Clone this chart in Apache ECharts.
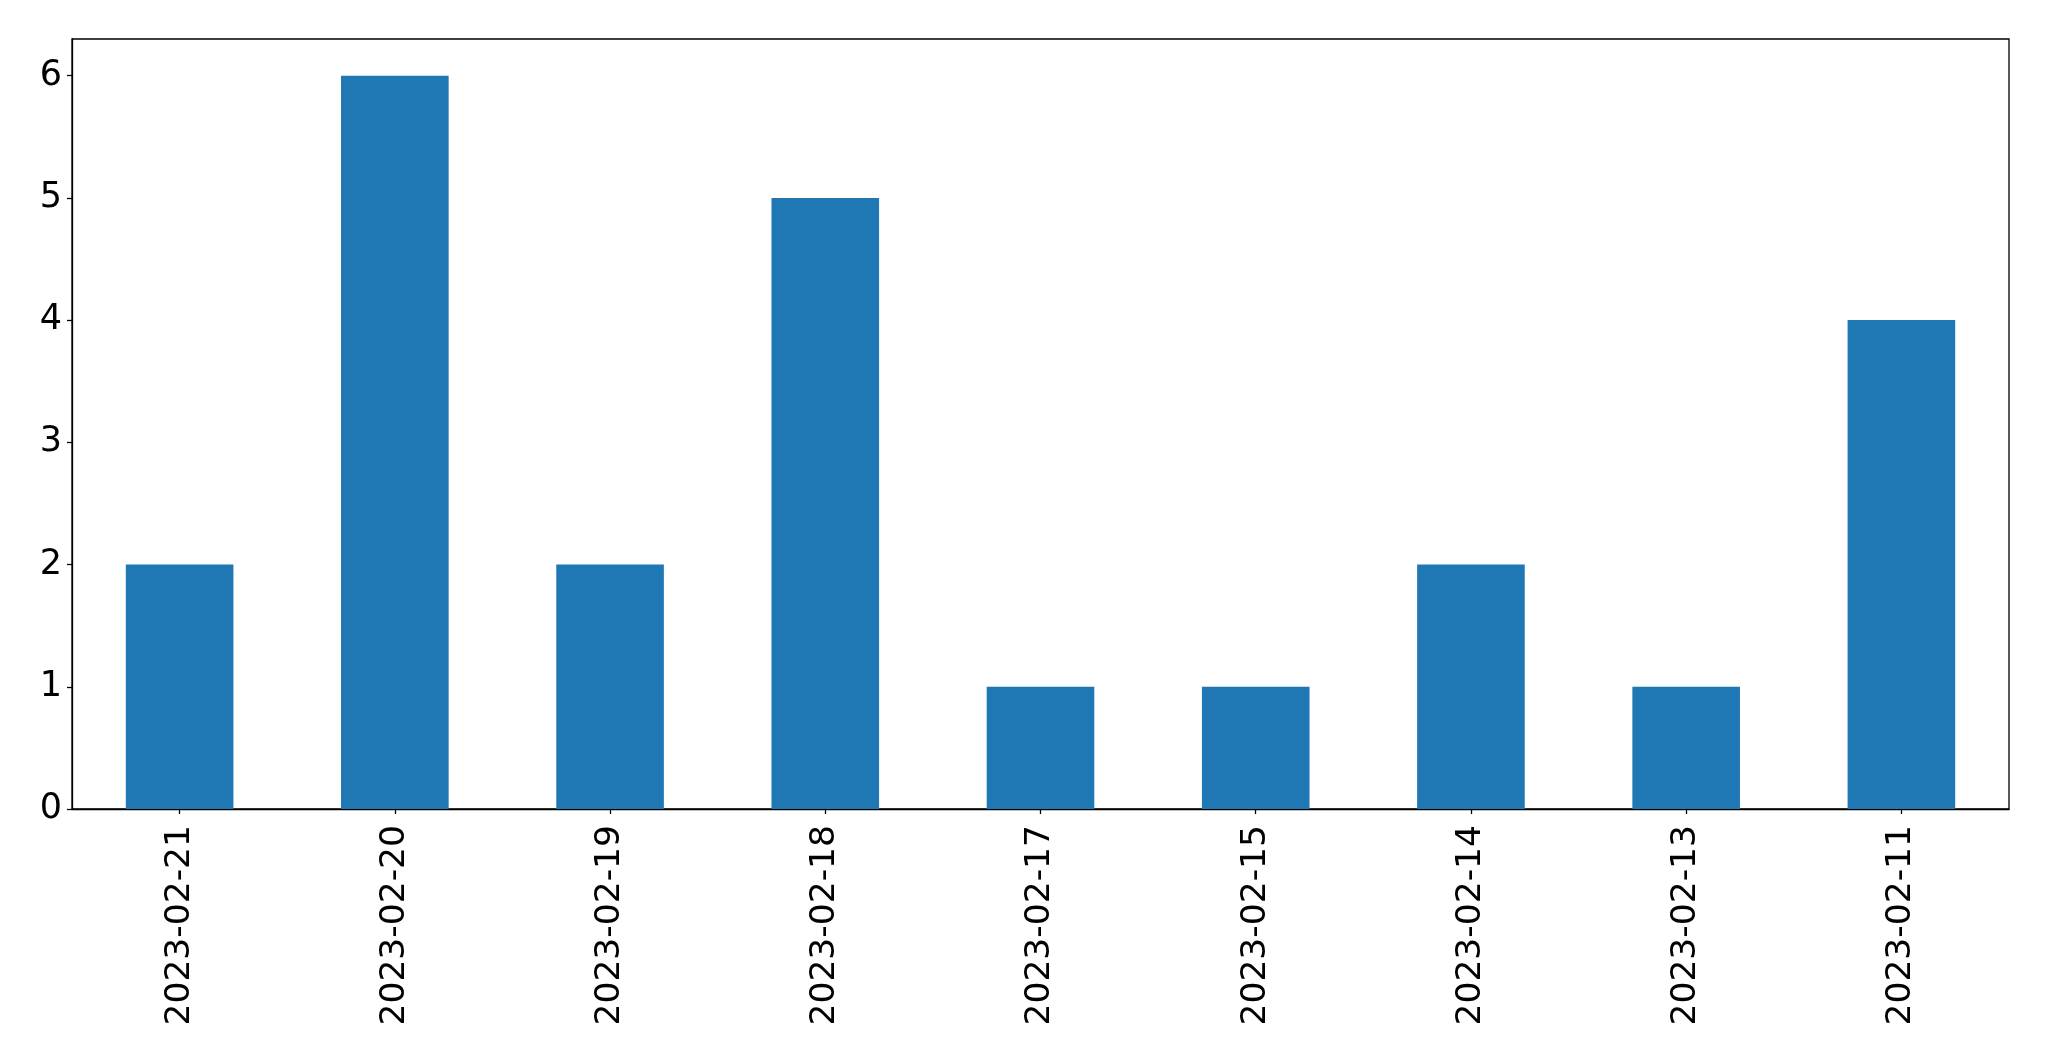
<!DOCTYPE html>
<html><head><meta charset="utf-8">
<script src="https://cdn.jsdelivr.net/npm/echarts@6/dist/echarts.min.js"></script>
<style>html,body{margin:0;padding:0;background:#fff}#c{width:2049px;height:1061px}</style>
</head><body><div id="c"></div>
<script>
const categories = ["2023-02-21","2023-02-20","2023-02-19","2023-02-18","2023-02-17","2023-02-15","2023-02-14","2023-02-13","2023-02-11"];
const values = [2,6,2,5,1,1,2,1,4];
const yTicks = [0,1,2,3,4,5,6];

const chart = echarts.init(document.getElementById('c'), null, {renderer:'canvas'});
const font = "DejaVu Sans";
chart.setOption({
  animation:false,
  backgroundColor:'#fff',
  grid:{left:72, top:39, right:40, bottom:252, show:true, borderColor:'#000', borderWidth:1.3, backgroundColor:'transparent'},
  xAxis:{type:'category', data:categories, boundaryGap:true,
    axisLine:{show:true, lineStyle:{color:'#000', width:1.3}},
    axisTick:{show:true, alignWithLabel:true, length:5, lineStyle:{color:'#000', width:1.3}},
    axisLabel:{rotate:90, fontSize:34.5, fontFamily:font, color:'#000', margin:16, interval:0},
    splitLine:{show:false}},
  yAxis:{type:'value', min:0, max:6.3, interval:1,
    axisLine:{show:true, lineStyle:{color:'#000', width:1.3}},
    axisTick:{show:true, length:5, lineStyle:{color:'#000', width:1.3}},
    axisLabel:{fontSize:35, fontFamily:font, color:'#000', margin:10, showMaxLabel:false,
      formatter:function(v){return yTicks.indexOf(v)>=0 ? String(v) : '';}},
    splitLine:{show:false}},
  series:[{type:'bar', data:values, barWidth:'50%', itemStyle:{color:'#1f77b4'}}]
});
</script></body></html>
